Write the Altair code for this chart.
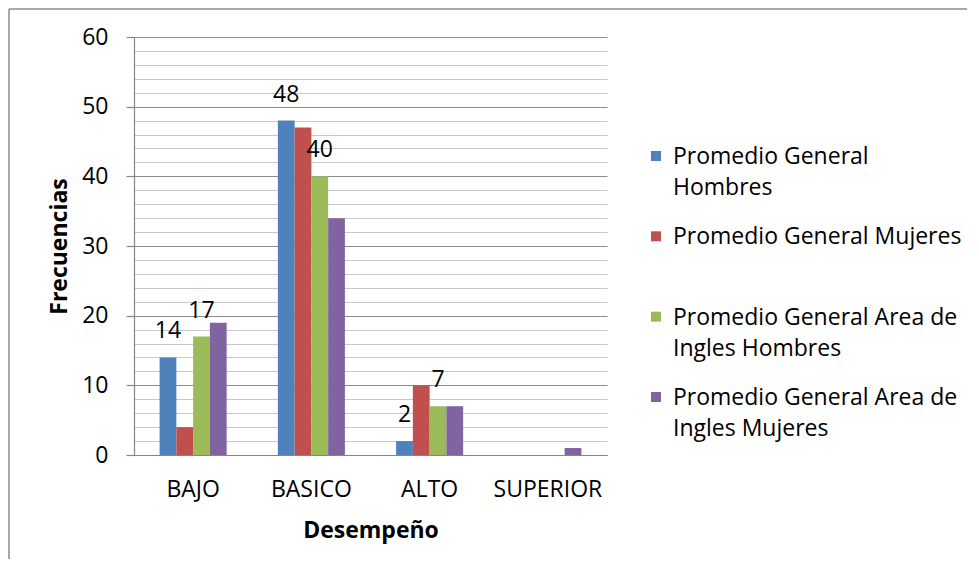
import altair as alt
import pandas as pd

FONT = "Open Sans"
FS = 23

categories = ["BAJO", "BASICO", "ALTO", "SUPERIOR"]
series = [
    "Promedio General Hombres",
    "Promedio General Mujeres",
    "Promedio General Area de Ingles Hombres",
    "Promedio General Area de Ingles Mujeres",
]
legend_text = [
    "Promedio General\nHombres",
    "Promedio General Mujeres",
    "Promedio General Area de\nIngles Hombres",
    "Promedio General Area de\nIngles Mujeres",
]
hombres = [14, 48, 2, 0]
mujeres = [4, 47, 10, 0]
area_hombres = [17, 40, 7, 0]
area_mujeres = [19, 34, 7, 1]
labeled_series = [series[0], series[2]]
colors = ["#4F81BD", "#C0504D", "#9BBB59", "#8064A2"]
y_grid_values = list(range(0, 61, 2))

rows = []
for s, vals in zip(series, [hombres, mujeres, area_hombres, area_mujeres]):
    for c, v in zip(categories, vals):
        rows.append({"cat": c, "series": s, "value": v})
df = pd.DataFrame(rows)

legend_df = pd.DataFrame({"series": series, "text": legend_text, "idx": list(range(len(series)))})

W, H = 473, 418

x_enc = alt.X(
    "cat:N", sort=categories,
    scale=alt.Scale(paddingInner=0.433, paddingOuter=0.2165),
    axis=alt.Axis(title="Desempeño", labelAngle=0, ticks=False, tickSize=0,
                  labelPadding=23, titlePadding=18, domainColor="#868686",
                  domainWidth=1.2, grid=False),
)
xoff_enc = alt.XOffset("series:N", sort=series, scale=alt.Scale(paddingInner=0, paddingOuter=0))
y_enc = alt.Y(
    "value:Q",
    scale=alt.Scale(domain=[0, 60], nice=False),
    axis=alt.Axis(
        title="Frecuencias", values=y_grid_values, grid=True,
        gridColor={"condition": {"test": "datum.value % 10 === 0", "value": "#8c8c8c"}, "value": "#c8c8c8"},
        gridWidth=1.2,
        tickColor={"condition": {"test": "datum.value % 10 === 0", "value": "#868686"}, "value": "transparent"},
        tickSize=8, tickWidth=1.2,
        labelExpr="datum.value % 10 === 0 ? datum.label : ''",
        labelOverlap=False, labelPadding=18, titlePadding=10,
        domainColor="#868686", domainWidth=1.2,
    ),
)

bars = alt.Chart(df).mark_bar().encode(
    x=x_enc, xOffset=xoff_enc, y=y_enc,
    color=alt.Color("series:N", sort=series, scale=alt.Scale(domain=series, range=colors), legend=None),
)

labels = alt.Chart(df).transform_filter(
    alt.FieldOneOfPredicate(field="series", oneOf=labeled_series)
).transform_filter("datum.value > 0").mark_text(
    baseline="bottom", dy=-14, fontSize=FS, font=FONT, color="#000000"
).encode(x=x_enc, xOffset=xoff_enc, y=y_enc, text="value:Q")

main = alt.layer(bars, labels)

legend_y = alt.Y("idx:O", scale=alt.Scale(type="point", range=[119, 360], padding=0), axis=None)
leg_sq = alt.Chart(legend_df).mark_square(size=100, opacity=1).encode(
    x=alt.value(522), y=legend_y,
    color=alt.Color("series:N", sort=series, scale=alt.Scale(domain=series, range=colors), legend=None),
)
leg_txt = alt.Chart(legend_df).mark_text(
    align="left", baseline="top", dy=-10, fontSize=FS, font=FONT, lineBreak="\n",
    lineHeight=31, color="#000000"
).encode(x=alt.value(539), y=legend_y, text="text:N")
legend = alt.layer(leg_sq, leg_txt)

frame_df = pd.DataFrame({"k": [0]})
top_line = alt.Chart(frame_df).mark_rule(color="#8c8c8c", strokeWidth=1.5).encode(
    x=alt.value(-125), x2=alt.value(W + 360), y=alt.value(-28)
)
left_line = alt.Chart(frame_df).mark_rule(color="#8c8c8c", strokeWidth=1.5).encode(
    x=alt.value(-125), y=alt.value(-28), y2=alt.value(H + 104)
)

chart = alt.layer(main, legend, top_line, left_line).resolve_scale(
    y="independent", color="independent"
).properties(
    width=W, height=H,
    autosize=alt.AutoSizeParams(type="none"),
    padding={"left": 126, "top": 29, "right": 360, "bottom": 104},
).configure_view(stroke=None).configure_axis(
    labelFont=FONT, labelFontSize=FS, labelColor="#000000",
    titleFont=FONT, titleFontSize=FS, titleFontWeight="bold", titleColor="#000000",
)

chart.save("out.html", embed_options={"renderer": "svg", "actions": False})
